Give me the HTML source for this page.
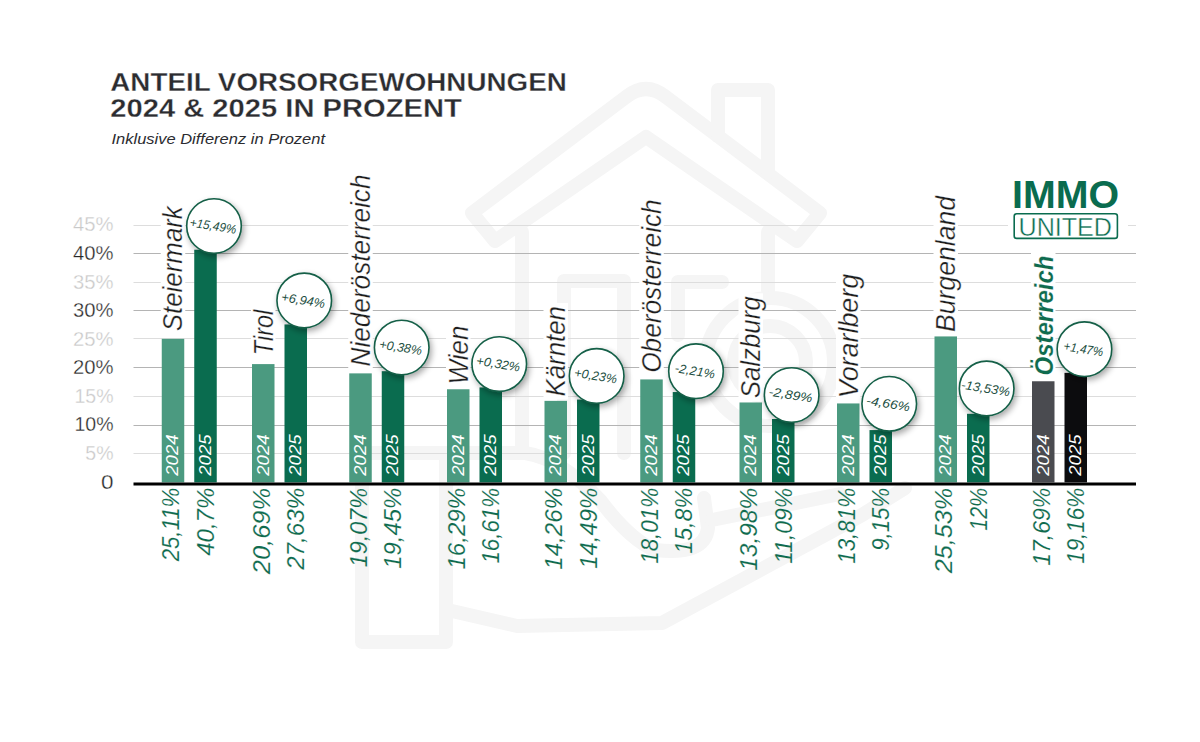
<!DOCTYPE html><html><head><meta charset="utf-8"><style>html,body{margin:0;padding:0;background:#fff;width:1200px;height:742px;overflow:hidden}svg{display:block}text{font-family:"Liberation Sans",sans-serif}</style></head><body>
<svg width="1200" height="742" viewBox="0 0 1200 742">
<defs><filter id="sh" x="-50%" y="-50%" width="200%" height="200%"><feGaussianBlur in="SourceAlpha" stdDeviation="3"/><feOffset dx="2" dy="3"/><feComponentTransfer><feFuncA type="linear" slope="0.35"/></feComponentTransfer><feMerge><feMergeNode/><feMergeNode in="SourceGraphic"/></feMerge></filter></defs>
<rect width="1200" height="742" fill="#fff"/>
<g fill="none" stroke="#f5f5f5" stroke-width="14" stroke-linejoin="round" stroke-linecap="round">
<path d="M472,213 L626,97 Q646,81 666,97 L820,213 L797,241 L646,137 L495,241 Z"/>
<path d="M718,136 L718,90 L768,90 L768,173"/>
<path d="M522,232 L522,453"/><path d="M768,232 L768,290"/>
<path d="M564,453 L564,281 L624,281 L624,453"/>
<path d="M678,335 L678,282 L722,282"/>
<circle cx="770" cy="362" r="64"/><circle cx="770" cy="362" r="36"/>
<path d="M452,611 L517,626 L662,623 L862,515 L905,488"/>
<path d="M446,453 L525,453 Q560,458 600,500 Q630,540 655,550 Q705,556 708,528 L704,498"/>
<path d="M712,520 L840,494"/>
<path d="M362,453 L362,642 L446,642 L446,453 Z"/>
</g>
<line x1="133.5" y1="453.5" x2="1136" y2="453.5" stroke="#dddddd" stroke-width="1"/>
<line x1="133.5" y1="425.5" x2="1136" y2="425.5" stroke="#b4b4b4" stroke-width="1"/>
<line x1="133.5" y1="396.5" x2="1136" y2="396.5" stroke="#dddddd" stroke-width="1"/>
<line x1="133.5" y1="367.5" x2="1136" y2="367.5" stroke="#b4b4b4" stroke-width="1"/>
<line x1="133.5" y1="338.5" x2="1136" y2="338.5" stroke="#dddddd" stroke-width="1"/>
<line x1="133.5" y1="310.5" x2="1136" y2="310.5" stroke="#b4b4b4" stroke-width="1"/>
<line x1="133.5" y1="282.5" x2="1136" y2="282.5" stroke="#dddddd" stroke-width="1"/>
<line x1="133.5" y1="253.5" x2="1136" y2="253.5" stroke="#b4b4b4" stroke-width="1"/>
<line x1="133.5" y1="225.5" x2="1136" y2="225.5" stroke="#dddddd" stroke-width="1"/>
<text x="113.5" y="488.6" font-size="19.5" fill="#262626" stroke="#fff" stroke-width="0.3" text-anchor="end" textLength="12.5" lengthAdjust="spacingAndGlyphs">0</text>
<text x="113.5" y="460.0" font-size="19.5" fill="#c9c9c9" stroke="#fff" stroke-width="0.3" text-anchor="end" lengthAdjust="spacingAndGlyphs">5%</text>
<text x="113.5" y="431.4" font-size="19.5" fill="#262626" stroke="#fff" stroke-width="0.3" text-anchor="end" lengthAdjust="spacingAndGlyphs">10%</text>
<text x="113.5" y="402.8" font-size="19.5" fill="#c9c9c9" stroke="#fff" stroke-width="0.3" text-anchor="end" lengthAdjust="spacingAndGlyphs">15%</text>
<text x="113.5" y="374.2" font-size="19.5" fill="#262626" stroke="#fff" stroke-width="0.3" text-anchor="end" textLength="40.5" lengthAdjust="spacingAndGlyphs">20%</text>
<text x="113.5" y="345.7" font-size="19.5" fill="#c9c9c9" stroke="#fff" stroke-width="0.3" text-anchor="end" textLength="40.5" lengthAdjust="spacingAndGlyphs">25%</text>
<text x="113.5" y="317.1" font-size="19.5" fill="#262626" stroke="#fff" stroke-width="0.3" text-anchor="end" textLength="40.5" lengthAdjust="spacingAndGlyphs">30%</text>
<text x="113.5" y="288.5" font-size="19.5" fill="#c9c9c9" stroke="#fff" stroke-width="0.3" text-anchor="end" textLength="40.5" lengthAdjust="spacingAndGlyphs">35%</text>
<text x="113.5" y="259.9" font-size="19.5" fill="#262626" stroke="#fff" stroke-width="0.3" text-anchor="end" textLength="40.5" lengthAdjust="spacingAndGlyphs">40%</text>
<text x="113.5" y="231.3" font-size="19.5" fill="#c9c9c9" stroke="#fff" stroke-width="0.3" text-anchor="end" textLength="40.5" lengthAdjust="spacingAndGlyphs">45%</text>
<rect x="160.75" y="203.20" width="24.5" height="131" fill="#fff"/>
<rect x="251.00" y="306.70" width="24.5" height="51.5" fill="#fff"/>
<rect x="348.25" y="171.50" width="24.5" height="198" fill="#fff"/>
<rect x="446.00" y="322.60" width="24.5" height="65" fill="#fff"/>
<rect x="543.50" y="303.00" width="24.5" height="96.5" fill="#fff"/>
<rect x="639.25" y="196.30" width="24.5" height="179.5" fill="#fff"/>
<rect x="738.50" y="293.30" width="24.5" height="108" fill="#fff"/>
<rect x="836.00" y="270.80" width="24.5" height="130.5" fill="#fff"/>
<rect x="933.50" y="193.00" width="24.5" height="142" fill="#fff"/>
<rect x="1031.00" y="252.50" width="24.5" height="126" fill="#fff"/>
<rect x="1008" y="176" width="120" height="68" fill="#fff"/>
<rect x="161.75" y="338.83" width="22.5" height="143.57" fill="#4b9a80"/>
<rect x="194.25" y="249.70" width="22.5" height="232.70" fill="#0a6c4f"/>
<text transform="translate(178.25,475.8) rotate(-90)" font-size="16.6" font-style="italic" fill="#fff" textLength="41.5" lengthAdjust="spacingAndGlyphs">2024</text>
<text transform="translate(210.75,475.8) rotate(-90)" font-size="16.6" font-style="italic" fill="#fff" textLength="41.5" lengthAdjust="spacingAndGlyphs">2025</text>
<rect x="252" y="364.10" width="22.5" height="118.30" fill="#4b9a80"/>
<rect x="284.5" y="324.43" width="22.5" height="157.97" fill="#0a6c4f"/>
<text transform="translate(268.50,475.8) rotate(-90)" font-size="16.6" font-style="italic" fill="#fff" textLength="41.5" lengthAdjust="spacingAndGlyphs">2024</text>
<text transform="translate(301.00,475.8) rotate(-90)" font-size="16.6" font-style="italic" fill="#fff" textLength="41.5" lengthAdjust="spacingAndGlyphs">2025</text>
<rect x="349.25" y="373.37" width="22.5" height="109.03" fill="#4b9a80"/>
<rect x="381.75" y="371.19" width="22.5" height="111.21" fill="#0a6c4f"/>
<text transform="translate(365.75,475.8) rotate(-90)" font-size="16.6" font-style="italic" fill="#fff" textLength="41.5" lengthAdjust="spacingAndGlyphs">2024</text>
<text transform="translate(398.25,475.8) rotate(-90)" font-size="16.6" font-style="italic" fill="#fff" textLength="41.5" lengthAdjust="spacingAndGlyphs">2025</text>
<rect x="447" y="389.26" width="22.5" height="93.14" fill="#4b9a80"/>
<rect x="479.5" y="387.43" width="22.5" height="94.97" fill="#0a6c4f"/>
<text transform="translate(463.50,475.8) rotate(-90)" font-size="16.6" font-style="italic" fill="#fff" textLength="41.5" lengthAdjust="spacingAndGlyphs">2024</text>
<text transform="translate(496.00,475.8) rotate(-90)" font-size="16.6" font-style="italic" fill="#fff" textLength="41.5" lengthAdjust="spacingAndGlyphs">2025</text>
<rect x="544.5" y="400.87" width="22.5" height="81.53" fill="#4b9a80"/>
<rect x="577.0" y="399.55" width="22.5" height="82.85" fill="#0a6c4f"/>
<text transform="translate(561.00,475.8) rotate(-90)" font-size="16.6" font-style="italic" fill="#fff" textLength="41.5" lengthAdjust="spacingAndGlyphs">2024</text>
<text transform="translate(593.50,475.8) rotate(-90)" font-size="16.6" font-style="italic" fill="#fff" textLength="41.5" lengthAdjust="spacingAndGlyphs">2025</text>
<rect x="640.25" y="379.43" width="22.5" height="102.97" fill="#4b9a80"/>
<rect x="672.75" y="392.06" width="22.5" height="90.34" fill="#0a6c4f"/>
<text transform="translate(656.75,475.8) rotate(-90)" font-size="16.6" font-style="italic" fill="#fff" textLength="41.5" lengthAdjust="spacingAndGlyphs">2024</text>
<text transform="translate(689.25,475.8) rotate(-90)" font-size="16.6" font-style="italic" fill="#fff" textLength="41.5" lengthAdjust="spacingAndGlyphs">2025</text>
<rect x="739.5" y="402.47" width="22.5" height="79.93" fill="#4b9a80"/>
<rect x="772.0" y="418.99" width="22.5" height="63.41" fill="#0a6c4f"/>
<text transform="translate(756.00,475.8) rotate(-90)" font-size="16.6" font-style="italic" fill="#fff" textLength="41.5" lengthAdjust="spacingAndGlyphs">2024</text>
<text transform="translate(788.50,475.8) rotate(-90)" font-size="16.6" font-style="italic" fill="#fff" textLength="41.5" lengthAdjust="spacingAndGlyphs">2025</text>
<rect x="837" y="403.44" width="22.5" height="78.96" fill="#4b9a80"/>
<rect x="869.5" y="430.08" width="22.5" height="52.32" fill="#0a6c4f"/>
<text transform="translate(853.50,475.8) rotate(-90)" font-size="16.6" font-style="italic" fill="#fff" textLength="41.5" lengthAdjust="spacingAndGlyphs">2024</text>
<text transform="translate(886.00,475.8) rotate(-90)" font-size="16.6" font-style="italic" fill="#fff" textLength="41.5" lengthAdjust="spacingAndGlyphs">2025</text>
<rect x="934.5" y="336.43" width="22.5" height="145.97" fill="#4b9a80"/>
<rect x="967.0" y="413.79" width="22.5" height="68.61" fill="#0a6c4f"/>
<text transform="translate(951.00,475.8) rotate(-90)" font-size="16.6" font-style="italic" fill="#fff" textLength="41.5" lengthAdjust="spacingAndGlyphs">2024</text>
<text transform="translate(983.50,475.8) rotate(-90)" font-size="16.6" font-style="italic" fill="#fff" textLength="41.5" lengthAdjust="spacingAndGlyphs">2025</text>
<rect x="1032" y="381.26" width="22.5" height="101.14" fill="#4a4b50"/>
<rect x="1064.5" y="372.85" width="22.5" height="109.55" fill="#0c0c0e"/>
<text transform="translate(1048.50,475.8) rotate(-90)" font-size="16.6" font-style="italic" fill="#fff" textLength="41.5" lengthAdjust="spacingAndGlyphs">2024</text>
<text transform="translate(1081.00,475.8) rotate(-90)" font-size="16.6" font-style="italic" fill="#fff" textLength="41.5" lengthAdjust="spacingAndGlyphs">2025</text>
<rect x="133.5" y="482.5" width="1002.5" height="3" fill="#000"/>
<text transform="translate(182.25,331.2) rotate(-90)" font-size="27.5" font-style="italic" fill="#1e1e1e" stroke="#fff" stroke-width="0.3" textLength="125" lengthAdjust="spacingAndGlyphs">Steiermark</text>
<text transform="translate(272.5,355.2) rotate(-90)" font-size="27.5" font-style="italic" fill="#1e1e1e" stroke="#fff" stroke-width="0.3" textLength="45.5" lengthAdjust="spacingAndGlyphs">Tirol</text>
<text transform="translate(369.75,366.5) rotate(-90)" font-size="27.5" font-style="italic" fill="#1e1e1e" stroke="#fff" stroke-width="0.3" textLength="192" lengthAdjust="spacingAndGlyphs">Niederösterreich</text>
<text transform="translate(467.5,384.6) rotate(-90)" font-size="27.5" font-style="italic" fill="#1e1e1e" stroke="#fff" stroke-width="0.3" textLength="59" lengthAdjust="spacingAndGlyphs">Wien</text>
<text transform="translate(565.0,396.5) rotate(-90)" font-size="27.5" font-style="italic" fill="#1e1e1e" stroke="#fff" stroke-width="0.3" textLength="90.5" lengthAdjust="spacingAndGlyphs">Kärnten</text>
<text transform="translate(660.75,372.8) rotate(-90)" font-size="27.5" font-style="italic" fill="#1e1e1e" stroke="#fff" stroke-width="0.3" textLength="173.5" lengthAdjust="spacingAndGlyphs">Oberösterreich</text>
<text transform="translate(760.0,398.3) rotate(-90)" font-size="27.5" font-style="italic" fill="#1e1e1e" stroke="#fff" stroke-width="0.3" textLength="102" lengthAdjust="spacingAndGlyphs">Salzburg</text>
<text transform="translate(857.5,398.3) rotate(-90)" font-size="27.5" font-style="italic" fill="#1e1e1e" stroke="#fff" stroke-width="0.3" textLength="124.5" lengthAdjust="spacingAndGlyphs">Vorarlberg</text>
<text transform="translate(955.0,332) rotate(-90)" font-size="27.5" font-style="italic" fill="#1e1e1e" stroke="#fff" stroke-width="0.3" textLength="136" lengthAdjust="spacingAndGlyphs">Burgenland</text>
<text transform="translate(1052.5,375.5) rotate(-90)" font-size="26.5" font-weight="bold" font-style="italic" fill="#0f6b4e" stroke="#fff" stroke-width="0.15" textLength="120" lengthAdjust="spacingAndGlyphs">Österreich</text>
<text transform="translate(179.25,561.30) rotate(-90)" font-size="24.5" font-style="italic" fill="#0f6b4e" stroke="#fff" stroke-width="0.15" textLength="73.5" lengthAdjust="spacingAndGlyphs">25,11%</text>
<text transform="translate(213.75,555.80) rotate(-90)" font-size="24.5" font-style="italic" fill="#0f6b4e" stroke="#fff" stroke-width="0.15" textLength="68" lengthAdjust="spacingAndGlyphs">40,7%</text>
<text transform="translate(269.50,574.30) rotate(-90)" font-size="24.5" font-style="italic" fill="#0f6b4e" stroke="#fff" stroke-width="0.15" textLength="86.5" lengthAdjust="spacingAndGlyphs">20,69%</text>
<text transform="translate(304.00,569.80) rotate(-90)" font-size="24.5" font-style="italic" fill="#0f6b4e" stroke="#fff" stroke-width="0.15" textLength="82" lengthAdjust="spacingAndGlyphs">27,63%</text>
<text transform="translate(366.75,567.30) rotate(-90)" font-size="24.5" font-style="italic" fill="#0f6b4e" stroke="#fff" stroke-width="0.15" textLength="79.5" lengthAdjust="spacingAndGlyphs">19,07%</text>
<text transform="translate(401.25,568.80) rotate(-90)" font-size="24.5" font-style="italic" fill="#0f6b4e" stroke="#fff" stroke-width="0.15" textLength="81" lengthAdjust="spacingAndGlyphs">19,45%</text>
<text transform="translate(464.50,569.55) rotate(-90)" font-size="24.5" font-style="italic" fill="#0f6b4e" stroke="#fff" stroke-width="0.15" textLength="81.75" lengthAdjust="spacingAndGlyphs">16,29%</text>
<text transform="translate(499.00,563.55) rotate(-90)" font-size="24.5" font-style="italic" fill="#0f6b4e" stroke="#fff" stroke-width="0.15" textLength="75.75" lengthAdjust="spacingAndGlyphs">16,61%</text>
<text transform="translate(562.00,569.80) rotate(-90)" font-size="24.5" font-style="italic" fill="#0f6b4e" stroke="#fff" stroke-width="0.15" textLength="82" lengthAdjust="spacingAndGlyphs">14,26%</text>
<text transform="translate(596.50,568.80) rotate(-90)" font-size="24.5" font-style="italic" fill="#0f6b4e" stroke="#fff" stroke-width="0.15" textLength="81" lengthAdjust="spacingAndGlyphs">14,49%</text>
<text transform="translate(657.75,563.80) rotate(-90)" font-size="24.5" font-style="italic" fill="#0f6b4e" stroke="#fff" stroke-width="0.15" textLength="76" lengthAdjust="spacingAndGlyphs">18,01%</text>
<text transform="translate(692.25,553.80) rotate(-90)" font-size="24.5" font-style="italic" fill="#0f6b4e" stroke="#fff" stroke-width="0.15" textLength="66" lengthAdjust="spacingAndGlyphs">15,8%</text>
<text transform="translate(757.00,570.80) rotate(-90)" font-size="24.5" font-style="italic" fill="#0f6b4e" stroke="#fff" stroke-width="0.15" textLength="83" lengthAdjust="spacingAndGlyphs">13,98%</text>
<text transform="translate(791.50,563.80) rotate(-90)" font-size="24.5" font-style="italic" fill="#0f6b4e" stroke="#fff" stroke-width="0.15" textLength="76" lengthAdjust="spacingAndGlyphs">11,09%</text>
<text transform="translate(854.50,563.80) rotate(-90)" font-size="24.5" font-style="italic" fill="#0f6b4e" stroke="#fff" stroke-width="0.15" textLength="76" lengthAdjust="spacingAndGlyphs">13,81%</text>
<text transform="translate(889.00,550.80) rotate(-90)" font-size="24.5" font-style="italic" fill="#0f6b4e" stroke="#fff" stroke-width="0.15" textLength="63" lengthAdjust="spacingAndGlyphs">9,15%</text>
<text transform="translate(952.00,573.30) rotate(-90)" font-size="24.5" font-style="italic" fill="#0f6b4e" stroke="#fff" stroke-width="0.15" textLength="85.5" lengthAdjust="spacingAndGlyphs">25,53%</text>
<text transform="translate(986.50,530.80) rotate(-90)" font-size="24.5" font-style="italic" fill="#0f6b4e" stroke="#fff" stroke-width="0.15" textLength="43" lengthAdjust="spacingAndGlyphs">12%</text>
<text transform="translate(1049.50,565.80) rotate(-90)" font-size="24.5" font-style="italic" fill="#0f6b4e" stroke="#fff" stroke-width="0.15" textLength="78" lengthAdjust="spacingAndGlyphs">17,69%</text>
<text transform="translate(1084.00,563.80) rotate(-90)" font-size="24.5" font-style="italic" fill="#0f6b4e" stroke="#fff" stroke-width="0.15" textLength="76" lengthAdjust="spacingAndGlyphs">19,16%</text>
<g filter="url(#sh)"><circle cx="214.00" cy="226.00" r="27.3" fill="#fff" stroke="#135f47" stroke-width="1.6"/></g>
<text transform="translate(214.00,226.00) rotate(9)" x="-24.50" y="4.3" font-size="12.5" font-style="italic" fill="#234f42" textLength="47" lengthAdjust="spacingAndGlyphs">+15,49%</text>
<g filter="url(#sh)"><circle cx="304.25" cy="300.43" r="27.3" fill="#fff" stroke="#135f47" stroke-width="1.6"/></g>
<text transform="translate(304.25,300.43) rotate(9)" x="-23.00" y="4.3" font-size="12.5" font-style="italic" fill="#234f42" textLength="44" lengthAdjust="spacingAndGlyphs">+6,94%</text>
<g filter="url(#sh)"><circle cx="401.70" cy="347.49" r="27.3" fill="#fff" stroke="#135f47" stroke-width="1.6"/></g>
<text transform="translate(401.70,347.49) rotate(9)" x="-22.50" y="4.3" font-size="12.5" font-style="italic" fill="#234f42" textLength="43" lengthAdjust="spacingAndGlyphs">+0,38%</text>
<g filter="url(#sh)"><circle cx="499.25" cy="364.03" r="27.3" fill="#fff" stroke="#135f47" stroke-width="1.6"/></g>
<text transform="translate(499.25,364.03) rotate(9)" x="-23.00" y="4.3" font-size="12.5" font-style="italic" fill="#234f42" textLength="44" lengthAdjust="spacingAndGlyphs">+0,32%</text>
<g filter="url(#sh)"><circle cx="596.65" cy="375.95" r="27.3" fill="#fff" stroke="#135f47" stroke-width="1.6"/></g>
<text transform="translate(596.65,375.95) rotate(9)" x="-22.50" y="4.3" font-size="12.5" font-style="italic" fill="#234f42" textLength="43" lengthAdjust="spacingAndGlyphs">+0,23%</text>
<g filter="url(#sh)"><circle cx="696.00" cy="371.16" r="27.3" fill="#fff" stroke="#135f47" stroke-width="1.6"/></g>
<text transform="translate(696.00,371.16) rotate(9)" x="-21.25" y="4.3" font-size="12.5" font-style="italic" fill="#234f42" textLength="40.5" lengthAdjust="spacingAndGlyphs">-2,21%</text>
<g filter="url(#sh)"><circle cx="791.65" cy="394.99" r="27.3" fill="#fff" stroke="#135f47" stroke-width="1.6"/></g>
<text transform="translate(791.65,394.99) rotate(9)" x="-23.00" y="4.3" font-size="12.5" font-style="italic" fill="#234f42" textLength="44" lengthAdjust="spacingAndGlyphs">-2,89%</text>
<g filter="url(#sh)"><circle cx="889.25" cy="403.78" r="27.3" fill="#fff" stroke="#135f47" stroke-width="1.6"/></g>
<text transform="translate(889.25,403.78) rotate(9)" x="-23.00" y="4.3" font-size="12.5" font-style="italic" fill="#234f42" textLength="44" lengthAdjust="spacingAndGlyphs">-4,66%</text>
<g filter="url(#sh)"><circle cx="986.65" cy="388.39" r="27.3" fill="#fff" stroke="#135f47" stroke-width="1.6"/></g>
<text transform="translate(986.65,388.39) rotate(9)" x="-25.50" y="4.3" font-size="12.5" font-style="italic" fill="#234f42" textLength="49" lengthAdjust="spacingAndGlyphs">-13,53%</text>
<g filter="url(#sh)"><circle cx="1084.45" cy="349.15" r="27.3" fill="#fff" stroke="#135f47" stroke-width="1.6"/></g>
<text transform="translate(1084.45,349.15) rotate(9)" x="-21.00" y="4.3" font-size="12.5" font-style="italic" fill="#234f42" textLength="40" lengthAdjust="spacingAndGlyphs">+1,47%</text>
<text x="110.3" y="91" font-size="25" font-weight="bold" fill="#2b2c30" stroke="#fff" stroke-width="0.3" textLength="456.5" lengthAdjust="spacingAndGlyphs">ANTEIL VORSORGEWOHNUNGEN</text>
<text x="110.3" y="117" font-size="25" font-weight="bold" fill="#2b2c30" stroke="#fff" stroke-width="0.3" textLength="351.5" lengthAdjust="spacingAndGlyphs">2024 &amp; 2025 IN PROZENT</text>
<text x="111.5" y="143.5" font-size="14" font-style="italic" fill="#2b2c30" textLength="213.5" lengthAdjust="spacingAndGlyphs">Inklusive Differenz in Prozent</text>
<text x="1012" y="208" font-size="38.5" font-weight="bold" fill="#0a6c4f" textLength="107" lengthAdjust="spacingAndGlyphs">IMMO</text>
<rect x="1014.2" y="213.8" width="103.2" height="24.6" rx="2.5" fill="none" stroke="#0a6c4f" stroke-width="1.6"/>
<text x="1018.5" y="235.6" font-size="26.5" fill="#0a6c4f" stroke="#fff" stroke-width="0.45" textLength="93.5" lengthAdjust="spacingAndGlyphs">UNITED</text>
</svg></body></html>
